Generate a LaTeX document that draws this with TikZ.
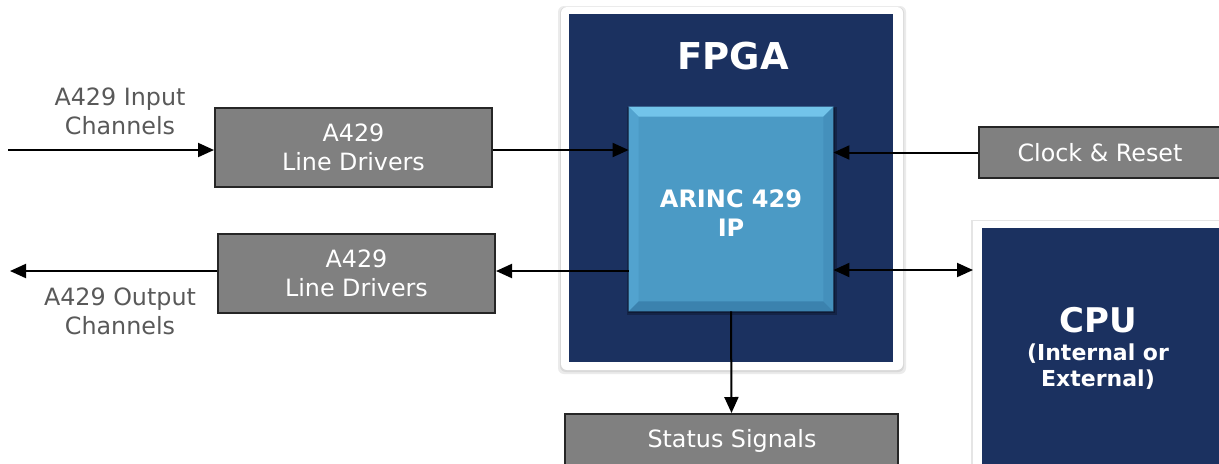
\documentclass[tikz,border=0pt]{standalone}
\usepackage{fontspec}
\setmainfont{DejaVu Sans}
\usetikzlibrary{arrows.meta}
\definecolor{navy}{HTML}{1B3160}
\definecolor{boxgray}{HTML}{808080}
\definecolor{boxedge}{HTML}{262626}
\definecolor{ipblue}{HTML}{4B9AC5}
\definecolor{iptop}{HTML}{72C4EA}
\definecolor{ipleft}{HTML}{52A3CF}
\definecolor{ipright}{HTML}{4490BC}
\definecolor{ipbot}{HTML}{3B82AE}
\definecolor{labgray}{HTML}{595959}
\tikzset{
  graybox/.style={draw=boxedge, line width=1pt, fill=boxgray, text=white, align=center,
    font=\fontsize{11.9}{14.5}\selectfont, inner sep=0pt},
  lab/.style={text=labgray, align=center, font=\fontsize{11.9}{14.5}\selectfont, inner sep=0pt},
  arr/.style={line width=1pt, -{Triangle[length=8pt,width=7pt]}},
  arrtwo/.style={line width=1pt, {Triangle[length=8pt,width=7pt]}-{Triangle[length=8pt,width=7pt]}},
}
\begin{document}
\begin{tikzpicture}[x=0.5pt,y=-0.5pt]
\useasboundingbox (0,0) rectangle (1219,463);
\fill[white] (0,0) rectangle (1219,463);
% FPGA frame
\fill[black!8, rounded corners=3pt] (558,6) rectangle (906,374);
\fill[black!15, rounded corners=3pt] (560,7) rectangle (904,372);
\fill[white, rounded corners=3pt] (561,7) rectangle (903,370);
\node[fill=navy, minimum width=162pt, minimum height=174pt, inner sep=0pt] (fpga) at (731,188) {};
\node[text=white, font=\fontsize{18.5}{20}\bfseries\selectfont] (fpgat) at (733,56) {FPGA};
% CPU frame
\fill[black!10] (971,220) rectangle (1230,470);
\node[fill=white, minimum width=130pt, minimum height=125pt, inner sep=0pt, anchor=north west] (cpu) at (973,221) {};
\fill[navy] (982,228) rectangle (1230,470);
\node[text=white, font=\fontsize{17}{20}\bfseries\selectfont] (cput) at (1098,320) {CPU};
\node[text=white, align=center, font=\fontsize{11}{13}\bfseries\selectfont] (cpus) at (1098,367) {(Internal or\\External)};
% IP box with bevel
\fill[black, opacity=0.25] (627,107) rectangle (837,315);
\fill[black, opacity=0.25] (628,108) rectangle (835,313);
\node[fill=ipblue, minimum width=102pt, minimum height=102pt, inner sep=0pt] (ip) at (731,209) {};
\fill[iptop] (ip.north west) -- (ip.north east) -- ([xshift=-5pt,yshift=-5pt]ip.north east) -- ([xshift=5pt,yshift=-5pt]ip.north west) -- cycle;
\fill[ipleft] (ip.north west) -- ([xshift=5pt,yshift=-5pt]ip.north west) -- ([xshift=5pt,yshift=5pt]ip.south west) -- (ip.south west) -- cycle;
\fill[ipright] (ip.north east) -- ([xshift=-5pt,yshift=-5pt]ip.north east) -- ([xshift=-5pt,yshift=5pt]ip.south east) -- (ip.south east) -- cycle;
\fill[ipbot] (ip.south west) -- ([xshift=5pt,yshift=5pt]ip.south west) -- ([xshift=-5pt,yshift=5pt]ip.south east) -- (ip.south east) -- cycle;
\node[text=white, align=center, font=\fontsize{12}{14.5}\bfseries\selectfont] (ipt) at (731,213) {ARINC 429\\IP};
% gray boxes
\node[graybox, minimum width=138.5pt, minimum height=39.5pt] (ldone) at (353.5,147.5) {A429\\Line Drivers};
\node[graybox, minimum width=138.5pt, minimum height=39.5pt] (ldtwo) at (356.5,273.5) {A429\\Line Drivers};
\node[graybox, minimum width=124pt, minimum height=25.5pt] (clk) at (1103,152.5) {};
\node[text=white, font=\fontsize{11.9}{14.5}\selectfont] (clkt) at (1100,153) {Clock \& Reset};
\node[graybox, minimum width=166.5pt, minimum height=31pt] (stat) at (731.5,445) {};
\node[text=white, font=\fontsize{11.9}{14.5}\selectfont] (statt) at (732,441) {Status Signals};
% labels
\node[lab] (inlab) at (120,111) {A429 Input\\Channels};
\node[lab] (outlab) at (120,311) {A429 Output\\Channels};
% connectors
\coordinate (inL) at (8,150);
\coordinate (outL) at (10,271);
\coordinate (cpuy) at (900,270);
\draw[arr] (inL) -- (inL -| ldone.west);
\draw[arr] (ldone.east |- inL) -- (ip.west |- inL);
\draw[arr] (clk.west) -- (ip.east |- clk.west);
\draw[arrtwo] (ip.east |- cpuy) -- (cpu.west |- cpuy);
\draw[arr] (ip.west |- outL) -- (ldtwo.east |- outL);
\draw[arr] (ldtwo.west |- outL) -- (outL);
\draw[arr] (ip.south) -- (stat.north);
\end{tikzpicture}
\end{document}
